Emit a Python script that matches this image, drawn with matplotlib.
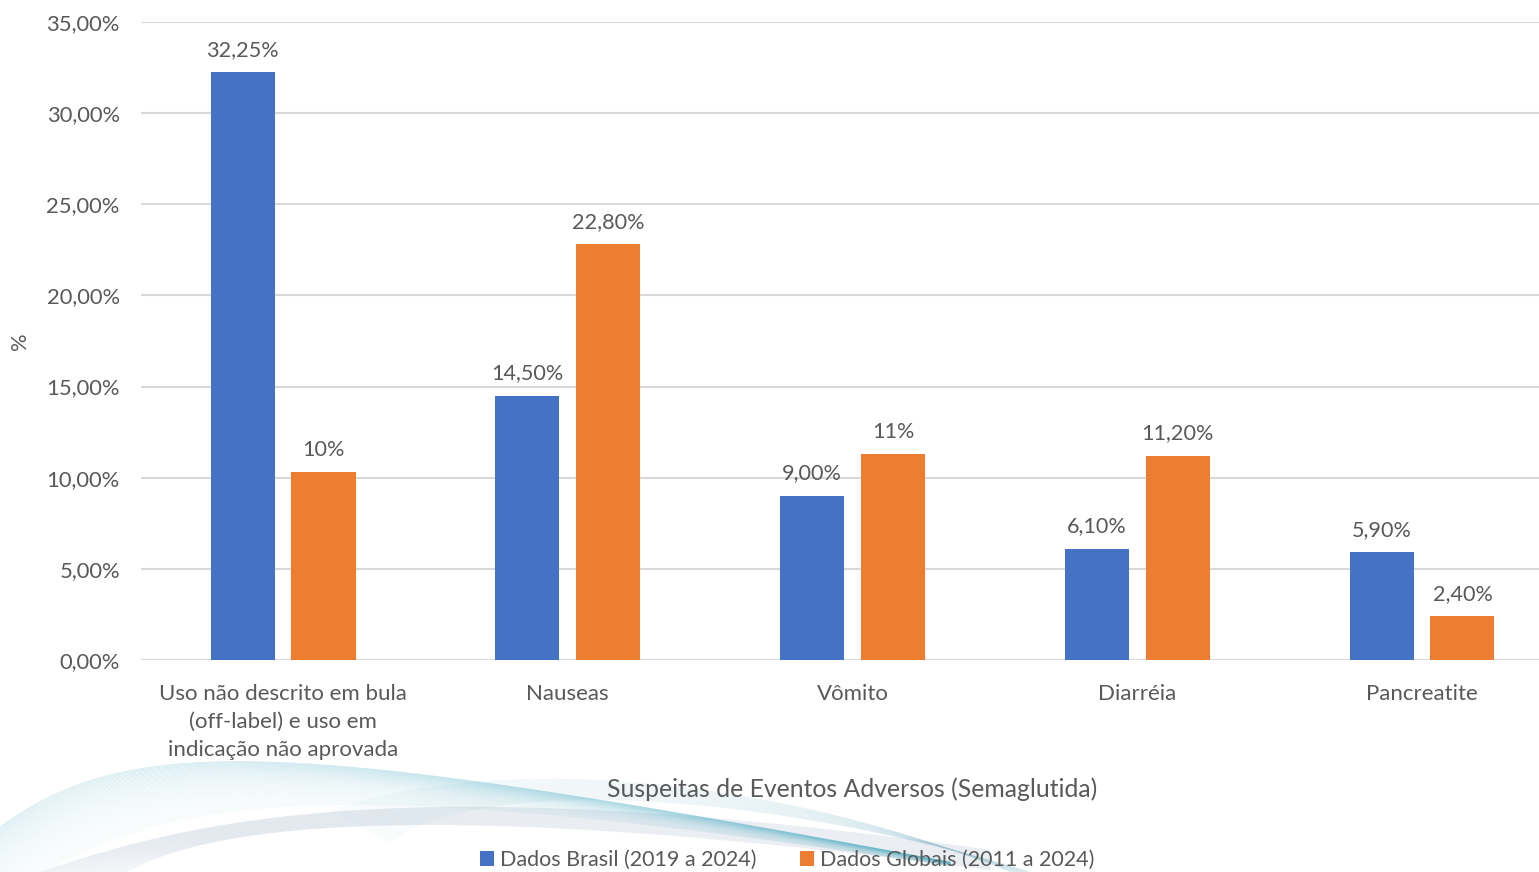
import matplotlib.pyplot as plt
import numpy as np

categorias = ['Uso não descrito em bula\n(off-label) e uso em\nindicação não aprovada',
              'Nauseas', 'Vômito', 'Diarréia', 'Pancreatite']
brasil = [32.25, 14.50, 9.00, 6.10, 5.90]
globais = [10.3, 22.80, 11.3, 11.20, 2.40]
casas_brasil = [2, 2, 2, 2, 2]
casas_globais = [0, 2, 0, 2, 2]
yticks = [0, 5, 10, 15, 20, 25, 30, 35]

azul = '#4472C4'
laranja = '#ED7D31'
cinza = '#595959'

plt.rcParams['font.family'] = ['Lato', 'DejaVu Sans']


def fmt(v, d):
    return f'{v:.{d}f}%'.replace('.', ',')


fig = plt.figure(figsize=(15.39, 8.72), dpi=100)

# faixa decorativa no canto inferior esquerdo
bg = fig.add_axes([0, 0, 1, 1], zorder=-1)
bg.set_xlim(0, 1539)
bg.set_ylim(872, 0)
bg.axis('off')


def bezier(p0, p1, p2, p3, n=300):
    t = np.linspace(0, 1, n)[:, None]
    p0, p1, p2, p3 = map(np.array, (p0, p1, p2, p3))
    return (1 - t) ** 3 * p0 + 3 * (1 - t) ** 2 * t * p1 + 3 * (1 - t) * t ** 2 * p2 + t ** 3 * p3


# faixa clara da direita
for k in np.linspace(0, 1, 40):
    c = bezier((330 + 60 * k, 812 + 30 * k), (480, 755 + 20 * k), (760, 770 + 20 * k), (1010 + 20 * k, 872))
    bg.plot(c[:, 0], c[:, 1], color='#9FCFDD', lw=0.5, alpha=0.10)
# faixa cinza-azulada subindo da esquerda
for k in np.linspace(0, 1, 50):
    c = bezier((30 + 90 * k, 876), (200, 815 + 10 * k), (420, 770 + 25 * k), (990, 850 + 20 * k))
    bg.plot(c[:, 0], c[:, 1], color='#7D97B8', lw=0.5, alpha=0.09)
# faixa turquesa
for k in np.linspace(0, 1, 50):
    c = bezier((0, 827 + 70 * k), (130 + 40 * k, 732 + 55 * k), (290 + 40 * k, 738 + 35 * k), (950, 862 + 4 * k))
    bg.plot(c[:, 0], c[:, 1], color='#3FA9C2', lw=0.5, alpha=0.05 + 0.22 * (1 - k) ** 2)

ax = fig.add_axes([0.0914, 0.2431, 0.9251, 0.7317])
ax.set_facecolor('none')
x = np.arange(len(categorias))
w = 0.225
off = 0.142
b1 = ax.bar(x - off, brasil, w, color=azul, label='Dados Brasil (2019 a 2024)', zorder=3)
b2 = ax.bar(x + off, globais, w, color=laranja, label='Dados Globais (2011 a 2024)', zorder=3)

for xi, v, d in zip(x - off, brasil, casas_brasil):
    ax.annotate(fmt(v, d), (xi, v), xytext=(0, 9), textcoords='offset points',
                ha='center', va='bottom', fontsize=15.6, color=cinza)
for xi, v, d in zip(x + off, globais, casas_globais):
    ax.annotate(fmt(v, d), (xi, v), xytext=(0, 9), textcoords='offset points',
                ha='center', va='bottom', fontsize=15.6, color=cinza)

ax.set_xlim(-0.5, len(categorias) - 0.5)
ax.set_ylim(0, 35)
ax.set_yticks(yticks)
ax.set_yticklabels([fmt(v, 2) for v in yticks])
ax.grid(axis='y', color='#D9D9D9', lw=1.5, zorder=0)
for s in ax.spines.values():
    s.set_visible(False)
ax.tick_params(axis='both', length=0, labelcolor=cinza)
ax.tick_params(axis='y', pad=15, labelsize=15.8)
ax.tick_params(axis='x', pad=17, labelsize=16)
ax.set_xticks(x)
ax.set_xticklabels(categorias, linespacing=1.5)
ax.set_ylabel('%', fontsize=15.8, color=cinza)
ax.yaxis.set_label_coords(-0.0777, 0.5)

fig.text(852 / 1539, 1 - 789 / 872, 'Suspeitas de Eventos Adversos (Semaglutida)',
         ha='center', va='center', fontsize=17.8, color=cinza)
fig.legend(handles=[b1, b2], loc='center', bbox_to_anchor=(787 / 1539, 1 - 860 / 872),
           ncol=2, frameon=False, fontsize=15.5, labelcolor=cinza,
           handlelength=0.65, handleheight=0.65, handletextpad=0.3, columnspacing=2.0)

fig.savefig('out.png', dpi=100)
